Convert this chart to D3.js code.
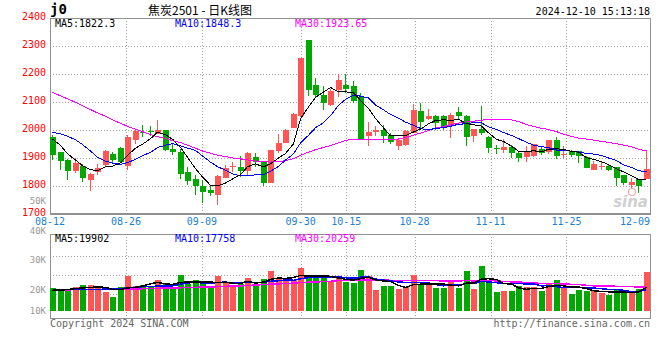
<!DOCTYPE html>
<html>
<head>
<meta charset="utf-8">
<script src="https://cdn.jsdelivr.net/npm/d3@7"></script>
<style>
  body { margin: 0; background: #fff; }
  svg text { font-family: "DejaVu Sans Mono", monospace; }
</style>
</head>
<body>
<div id="grafico"></div>
<script>
// 交易日
const dates = [
  "08-12","08-13","08-14","08-15","08-16","08-19","08-20","08-21","08-22","08-23",
  "08-26","08-27","08-28","08-29","08-30","09-02","09-03","09-04","09-05","09-06",
  "09-09","09-10","09-11","09-12","09-13","09-18","09-19","09-20","09-23","09-24",
  "09-25","09-26","09-27","09-30","10-08","10-09","10-10","10-11","10-14","10-15",
  "10-16","10-17","10-18","10-21","10-22","10-23","10-24","10-25","10-28","10-29",
  "10-30","10-31","11-01","11-04","11-05","11-06","11-07","11-08","11-11","11-12",
  "11-13","11-14","11-15","11-18","11-19","11-20","11-21","11-22","11-25","11-26",
  "11-27","11-28","11-29","12-02","12-03","12-04","12-05","12-06","12-09","12-10"
];
const opens = [
  1975,1920,1894,1855,1873,1820,1849,1876,1916,1937,
  1870,1963,1994,1995,1987,2001,1933,1920,1849,1826,
  1800,1787,1768,1830,1870,1869,1855,1904,1885,1812,
  1926,1955,2008,2050,2321,2161,2125,2089,2143,2161,
  2156,2118,1977,1992,2001,1983,1944,1945,1989,2067,
  2039,2051,2049,2016,2063,2051,1979,2004,1976,1934,
  1930,1940,1919,1903,1906,1932,1920,1966,1912,1925,
  1925,1905,1858,1870,1873,1867,1840,1803,1824,1824
];
const highs = [
  1982,1922,1896,1900,1878,1847,1879,1927,1922,1938,
  1983,2001,2019,2013,2037,2001,1954,1932,1867,1838,
  1821,1805,1838,1875,1887,1907,1920,1917,1891,1930,
  1986,2002,2060,2257,2321,2187,2157,2145,2199,2199,
  2176,2133,2027,2013,2019,1989,1968,2001,2092,2095,
  2075,2055,2052,2061,2081,2053,2005,2087,1977,1946,
  1968,1948,1922,1943,1949,1942,1966,1975,1943,1930,
  1925,1907,1890,1886,1879,1867,1840,1830,1824,1924
];
const lows = [
  1893,1858,1823,1845,1816,1781,1839,1870,1882,1884,
  1858,1951,1975,1977,1987,1925,1912,1826,1803,1767,
  1738,1763,1731,1828,1851,1833,1840,1869,1800,1812,
  1917,1952,2008,2045,2123,2113,2072,2086,2119,2131,
  2096,1966,1944,1977,1954,1951,1930,1944,1989,2007,
  2035,2001,2001,1971,2037,1943,1956,1983,1917,1915,
  1918,1899,1887,1887,1905,1911,1914,1897,1900,1905,
  1883,1863,1856,1856,1854,1801,1803,1794,1774,1824
];
const closes = [
  1912,1888,1852,1882,1827,1844,1866,1924,1894,1885,
  1976,1998,1992,1993,2001,1930,1920,1844,1817,1799,
  1780,1774,1834,1866,1871,1855,1918,1885,1812,1929,
  1955,2000,2057,2257,2143,2125,2095,2139,2179,2146,
  2102,1966,1992,2001,1977,1957,1966,1995,2070,2027,
  2051,2025,2010,2055,2049,1975,2004,1988,1934,1931,
  1939,1918,1900,1924,1949,1918,1966,1906,1916,1911,
  1906,1865,1880,1873,1858,1829,1812,1814,1801,1862
];
const ma5 = [
  1968,1945,1915,1893,1872.2,1858.6,1854.2,1868.6,1871,1882.6,
  1909,1935.4,1949,1968.8,1992,1982.8,1967.2,1937.6,1902.4,1862,
  1832,1802.8,1800.8,1810.6,1825,1840,1868.8,1879,1868.2,1879.8,
  1899.8,1916.2,1950.6,2039.6,2082.4,2116.4,2135.4,2151.8,2136.2,2136.8,
  2132.2,2106.4,2077,2041.4,2007.6,1978.6,1978.6,1979.2,1993,2003,
  2021.8,2033.6,2036.6,2033.6,2038,2022.8,2018.6,2014.2,1990,1966.4,
  1959.2,1942,1924.4,1922.4,1926,1921.8,1931.4,1932.6,1931,1923.4,
  1921,1900.8,1895.6,1887,1876.4,1861,1850.4,1837.2,1822.8,1823.6
];
const ma10 = [
  1992,1986,1978,1965,1948,1925,1903,1889,1882,1877.4,
  1883.8,1894.8,1908.8,1919.9,1937.3,1945.9,1951.3,1943.3,1935.6,1927,
  1907.4,1885,1869.2,1856.5,1843.5,1836,1835.8,1839.9,1839.4,1852.4,
  1869.9,1892.5,1914.8,1953.9,1981.1,2008.1,2025.8,2051.2,2087.9,2109.6,
  2124.3,2120.9,2114.4,2088.8,2072.2,2055.4,2042.5,2028.1,2017.2,2005.3,
  2000.2,2006.1,2007.9,2013.3,2020.5,2022.3,2026.1,2025.4,2011.8,2002.2,
  1991,1980.3,1969.3,1956.2,1946.2,1940.5,1936.7,1928.5,1926.7,1924.7,
  1921.4,1916.1,1914.1,1909,1899.9,1891,1875.6,1866.4,1854.9,1850
];
const ma30 = [
  2134,2122,2111,2099,2086,2073,2061,2049,2036,2024,
  2013,2003,1994,1984,1976,1970,1962,1955,1946,1935,
  1925,1917,1910,1905,1900,1897,1893,1889,1886,1885.6,
  1887,1890.8,1897.6,1910.1,1920.6,1930,1937.6,1944.8,1954.3,1963,
  1967.2,1966.1,1966.1,1966.4,1965.6,1966.5,1968,1973.1,1981.5,1989.1,
  1998.1,2006.5,2012.4,2018.7,2024.6,2028.6,2031.5,2034.9,2039,2039,
  2038.5,2035.8,2030.5,2019.4,2013,2006.1,2001.8,1994,1985.2,1977.4,
  1970.9,1967.5,1963.8,1959.5,1955.5,1951.3,1946.1,1940.1,1931.1,1925.6
];
const volumes = [
  19600,17600,17600,20400,21800,21800,19000,16200,12000,20200,
  29700,21000,21800,21300,26100,23500,19000,30300,22400,26100,
  23200,19000,29400,23200,21800,22400,27700,22400,26900,33600,
  27700,26100,26100,36100,30300,27500,27500,24100,29400,24600,
  23800,34500,29400,17600,21000,21000,18500,20200,30300,22400,
  21800,19600,19600,25200,19600,33600,18500,37800,26100,16000,
  16800,16800,21300,20200,20200,16800,23800,26100,19000,14300,
  17600,16800,17600,15400,13400,17600,15400,15400,18500,32800
];
const vma5 = [
  17400,17600,18000,18800,19400,19840,20120,19840,18160,17840,
  19420,19820,20940,22800,23980,22740,22340,24040,24260,24260,
  24200,24200,24020,24180,23320,23160,24900,23500,24240,26600,
  27660,27340,28080,29920,29260,29220,29500,29100,27760,26620,
  25880,27280,28340,25980,25260,24700,21500,19660,22200,22480,
  22640,22860,22740,21720,21160,23520,23300,26940,27120,26400,
  23040,22700,19400,18220,19060,19060,20460,21420,21180,20000,
  20160,18760,17060,16340,16160,16160,15880,15440,16060,19940
];
const vma10 = [
  17900,17900,17900,18000,18000,18100,18200,18300,18400,18620,
  19630,19970,20390,20480,20910,21080,21080,22490,23530,24120,
  23470,23270,24030,24220,23790,23680,24550,23760,24210,24960,
  25410,26120,25790,27080,27930,28440,28420,28590,28840,27940,
  27550,28390,28720,26870,25940,25290,24390,24000,24090,23870,
  23670,22180,21200,21960,21820,23080,23080,24840,24420,23780,
  23280,23000,23170,22670,22730,21050,21580,20410,19700,19530,
  19610,19610,19240,18760,18080,18160,17320,16250,16200,18050
];
const vma30 = [
  17800,17800,17800,17900,17900,18000,18000,18000,18000,18100,
  18300,18500,18700,18800,19000,19200,19300,19500,19700,19900,
  20000,20200,20400,20700,20900,21100,21400,21800,22200,22570,
  22840,23120,23400,23930,24210,24400,24680,24950,25530,25670,
  25480,25930,26180,26060,25890,25800,25790,25450,25710,25590,
  25540,25560,25240,25300,25230,25600,25300,25810,25780,25200,
  24830,24520,24360,23830,23500,23140,23020,23080,22740,22390,
  22190,21600,21200,21130,20880,20760,20660,20500,20110,20450
];
const tickDates = ["08-12","08-26","09-09","09-30","10-15","10-28","11-11","11-25","12-09"];
const priceTicks = [1700,1800,1900,2000,2100,2200,2300,2400];
const volTicks = [10000,20000,30000,40000,50000];
const volGrid = [14500,30500,46500];
const maNames = ["MA5","MA10","MA30"];
const priceMaLast = ["1822.3","1848.3","1923.65"];
const volMaLast = ["19902","17758","20259"];

const width = 660, height = 360;
const left = 50, right = 650;
const upColor = "#ff5555", downColor = "#00a800";
const maColors = ["#000000", "#0000ff", "#ff00ff"];
const gridColor = "#a0a0a0", frameColor = "#909090";

const svg = d3.select("#grafico").append("svg")
  .attr("width", width).attr("height", height)
  .style("display", "block");

const x = d3.scaleBand().domain(dates).range([left, right]).paddingInner(0.2);
const xg = d3.scalePoint().domain(dates).range([left, right]);
const cx = d => Math.round(x(d)) + 3;

const y = d3.scaleLinear().domain([1700, 2400]).range([214, 18]);
const vy = d3.scaleLinear().domain([0, 64000]).range([311, 234.8]);
const vLabel = d3.scaleLinear().domain([0, 50000]).range([349, 200.5]);
const volTop = 234, volBottom = 318;

// 网格
const grid = svg.append("g").attr("stroke", gridColor).attr("stroke-dasharray", "1,2")
  .attr("shape-rendering", "crispEdges");
grid.selectAll(".hp").data(priceTicks.slice(1, -1)).join("line")
  .attr("x1", left).attr("x2", right)
  .attr("y1", d => Math.round(y(d)) + 0.5).attr("y2", d => Math.round(y(d)) + 0.5);
grid.selectAll(".hv").data(volGrid).join("line")
  .attr("x1", left).attr("x2", right)
  .attr("y1", d => Math.round(vy(d)) + 0.5).attr("y2", d => Math.round(vy(d)) + 0.5);
const vTicks = tickDates.slice(1, -1);
grid.selectAll(".vp").data(vTicks).join("line")
  .attr("x1", d => Math.round(xg(d)) + 0.5).attr("x2", d => Math.round(xg(d)) + 0.5)
  .attr("y1", y(2400)).attr("y2", y(1700));
grid.selectAll(".vv").data(vTicks).join("line")
  .attr("x1", d => Math.round(xg(d)) + 0.5).attr("x2", d => Math.round(xg(d)) + 0.5)
  .attr("y1", volTop).attr("y2", volBottom);

// 边框
const frame = svg.append("g").attr("fill", "none").attr("stroke", frameColor)
  .attr("shape-rendering", "crispEdges");
frame.append("rect").attr("x", left + 0.5).attr("y", y(2400) + 0.5)
  .attr("width", right - left).attr("height", y(1700) - y(2400));
frame.append("line").attr("x1", left).attr("x2", right)
  .attr("y1", y(1700) - 0.5).attr("y2", y(1700) - 0.5);
frame.append("rect").attr("x", left + 0.5).attr("y", volTop + 0.5)
  .attr("width", right - left).attr("height", volBottom - volTop);

// K线
const idx = d3.range(dates.length);
const candles = svg.append("g").attr("shape-rendering", "crispEdges");
candles.selectAll("rect.wick").data(idx).join("rect")
  .attr("x", i => cx(dates[i]) - 1)
  .attr("y", i => Math.round(y(highs[i])))
  .attr("width", 1)
  .attr("height", i => Math.max(1, Math.round(y(lows[i])) - Math.round(y(highs[i]))))
  .attr("fill", i => closes[i] >= opens[i] ? upColor : downColor);
candles.selectAll("rect.body").data(idx).join("rect")
  .attr("x", i => Math.round(x(dates[i])))
  .attr("y", i => Math.round(y(Math.max(opens[i], closes[i]))))
  .attr("width", 6)
  .attr("height", i => Math.max(1, Math.round(y(Math.min(opens[i], closes[i]))) - Math.round(y(Math.max(opens[i], closes[i])))))
  .attr("fill", i => closes[i] >= opens[i] ? upColor : downColor);

// 成交量
svg.append("g").attr("shape-rendering", "crispEdges")
  .selectAll("rect").data(idx).join("rect")
  .attr("x", i => Math.round(x(dates[i])))
  .attr("y", i => Math.round(vy(volumes[i])))
  .attr("width", 6)
  .attr("height", i => Math.round(vy(0)) - Math.round(vy(volumes[i])))
  .attr("fill", i => closes[i] >= opens[i] ? upColor : downColor);

// 均线
const priceLine = d3.line().x((v, i) => cx(dates[i]) - 0.5).y(v => y(v));
[ma30, ma10, ma5].forEach((s, k) => {
  svg.append("path").datum(s).attr("d", priceLine)
    .attr("fill", "none").attr("stroke", maColors[2 - k]).attr("stroke-width", 1)
    .attr("shape-rendering", "crispEdges");
});
const volLine = d3.line().x((v, i) => cx(dates[i]) - 0.5).y(v => vy(v));
[vma30, vma10, vma5].forEach((s, k) => {
  svg.append("path").datum(s).attr("d", volLine)
    .attr("fill", "none").attr("stroke", maColors[2 - k]).attr("stroke-width", 1.5)
    .attr("shape-rendering", "crispEdges");
});

// 坐标轴文字
svg.append("g").selectAll("text").data(priceTicks).join("text")
  .attr("x", 46).attr("y", d => y(d) + 1.5)
  .attr("text-anchor", "end").attr("fill", "#ff0000")
  .style("font-size", "10px").text(d => d);
svg.append("g").selectAll("text").data(volTicks).join("text")
  .attr("x", 46).attr("y", d => Math.min(vLabel(d), 310) + 3.5)
  .attr("text-anchor", "end").attr("fill", "#999")
  .style("font-size", "9px").text(d => d / 1000 + "K");
svg.append("g").selectAll("text").data(tickDates).join("text")
  .attr("x", d => Math.min(xg(d), right - 15)).attr("y", 224.5)
  .attr("text-anchor", "middle").attr("fill", "#1a7fd6")
  .style("font-size", "10px").text(d => d);

// 图例
const legX = [55, 175, 295];
svg.append("g").selectAll("text").data(maNames).join("text")
  .attr("x", (d, i) => legX[i]).attr("y", 27)
  .attr("fill", (d, i) => maColors[i]).style("font-size", "10px")
  .text((d, i) => d + ":" + priceMaLast[i]);
svg.append("g").selectAll("text").data(maNames).join("text")
  .attr("x", (d, i) => legX[i]).attr("y", 242)
  .attr("fill", (d, i) => maColors[i]).style("font-size", "10px")
  .text((d, i) => d + ":" + volMaLast[i]);

// 标题
svg.append("text").attr("x", 50).attr("y", 14)
  .style("font-size", "14px").style("font-weight", "bold").text("j0");
svg.append("text").attr("x", 200).attr("y", 15).attr("text-anchor", "middle")
  .style("font-family", "'Noto Sans CJK SC', sans-serif").style("font-size", "12px")
  .text("焦炭2501 - 日K线图");
svg.append("text").attr("x", 650).attr("y", 15).attr("text-anchor", "end")
  .style("font-size", "10px").text("2024-12-10 15:13:18");

// 底部
svg.append("text").attr("x", 50).attr("y", 327).attr("fill", "#666")
  .style("font-size", "10px").text("Copyright 2024 SINA.COM");
svg.append("text").attr("x", 650).attr("y", 327).attr("text-anchor", "end").attr("fill", "#666")
  .style("font-size", "10px").text("http://finance.sina.com.cn");

// 水印
svg.append("text").attr("x", 648).attr("y", 207).attr("text-anchor", "end")
  .attr("fill", "#d0d0d0").style("font-size", "15px").style("font-style", "italic")
  .style("font-weight", "bold").style("font-family", "'DejaVu Sans', sans-serif").text("sina");
svg.append("circle").attr("cx", 632).attr("cy", 192).attr("r", 3.5)
  .attr("fill", "none").attr("stroke", "#eaa").attr("stroke-width", 1.2);
</script>
</body>
</html>
